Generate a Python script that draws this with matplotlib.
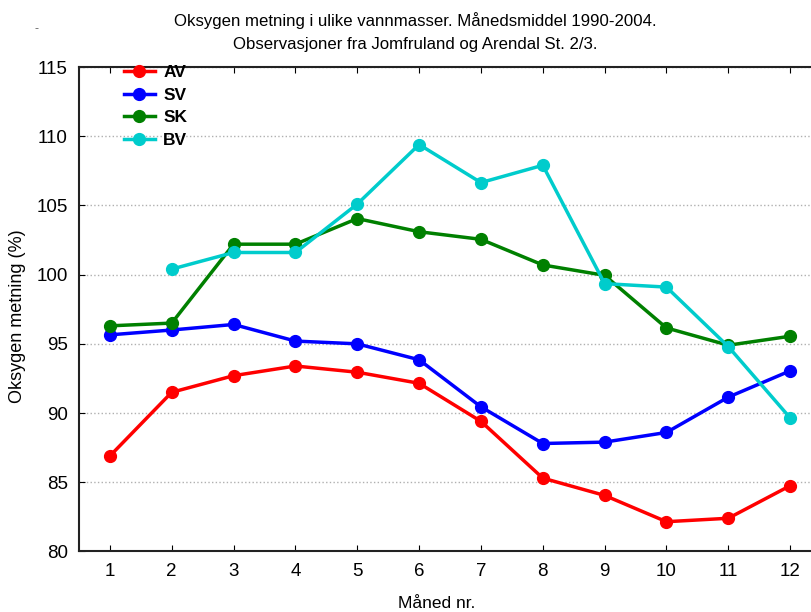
import numpy as np
import matplotlib.pyplot as plt

months = np.arange(1, 13)
av = [86.9, 91.5, 92.7, 93.4, 92.95, 92.15, 89.4, 85.3, 84.05, 82.15, 82.4, 84.75]
sv = [95.65, 96.0, 96.4, 95.2, 95.0, 93.85, 90.45, 87.8, 87.9, 88.6, 91.15, 93.05]
sk = [96.3, 96.5, 102.2, 102.2, 104.05, 103.1, 102.55, 100.7, 99.95, 96.15, 94.9, 95.55]
bv_months = np.arange(2, 13)
bv = [100.4, 101.6, 101.6, 105.1, 109.4, 106.65, 107.9, 99.35, 99.1, 94.8, 89.65]

plt.rcParams['font.family'] = ['Liberation Sans', 'DejaVu Sans']
narrow = ['Liberation Sans Narrow', 'Liberation Sans']

fig = plt.figure(figsize=(8.11, 6.12), dpi=100)
ax = fig.add_axes([0.0974, 0.0989, 0.915, 0.7916])

ax.plot(months, av, '-o', color='#ff0000', lw=2.5, ms=8.5, label='AV')
ax.plot(months, sv, '-o', color='#0000ff', lw=2.5, ms=8.5, label='SV')
ax.plot(months, sk, '-o', color='#008000', lw=2.5, ms=8.5, label='SK')
ax.plot(bv_months, bv, '-o', color='#00cccc', lw=2.5, ms=8.5, label='BV')

ax.set_xlim(0.5, 12.5)
ax.set_ylim(80, 115)
ax.set_xticks(months)
ax.set_yticks(np.arange(80, 116, 5))
ax.tick_params(direction='in', top=True, right=True, labelsize=13.5, length=4, pad=8)
ax.yaxis.grid(True, linestyle=':', color='#b0b0b0', linewidth=1)
for s in ax.spines.values():
    s.set_linewidth(1.5)
    s.set_color('#222222')

ax.set_xlabel('Måned nr.', fontsize=12.5, family=narrow)
ax.set_ylabel('Oksygen metning (%)', fontsize=13)
ax.xaxis.set_label_coords(0.4825, -0.092)
ax.yaxis.set_label_coords(-0.071, 0.486)

fig.text(0.512, 0.967, 'Oksygen metning i ulike vannmasser. Månedsmiddel 1990-2004.',
         ha='center', va='center', fontsize=12.1, family=narrow)
fig.text(0.512, 0.928, 'Observasjoner fra Jomfruland og Arendal St. 2/3.',
         ha='center', va='center', fontsize=12.1, family=narrow)
fig.text(0.045, 0.952, '-', ha='center', va='center', fontsize=9, color='#666666')

leg = ax.legend(loc='upper left', bbox_to_anchor=(0.04, 1.036), frameon=False,
                prop={'weight': 'bold', 'size': 12.5}, handlelength=1.75,
                labelspacing=0.42, handletextpad=0.5)

fig.savefig('out.png', dpi=100)
